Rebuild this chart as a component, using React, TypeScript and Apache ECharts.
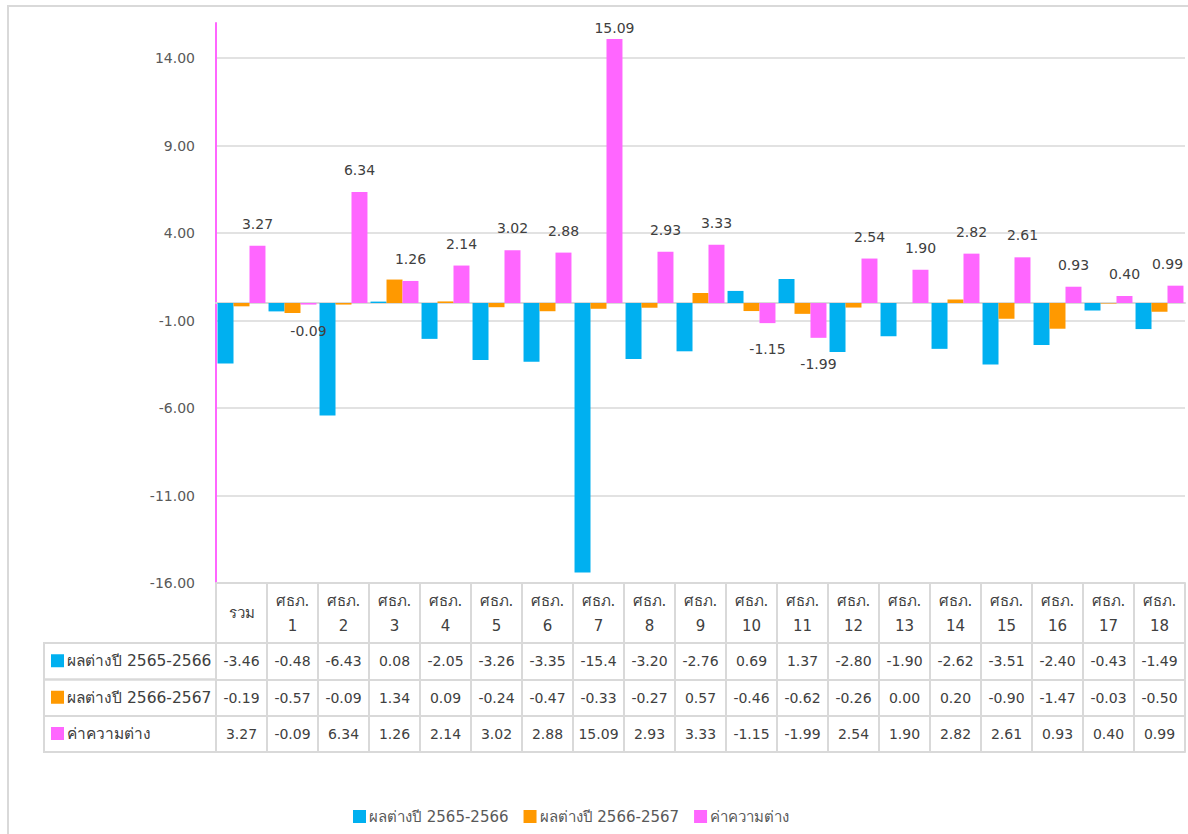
import React, { useEffect, useRef } from "react";
import * as echarts from "echarts";

const categories = [
  "รวม", "ศธภ. 1", "ศธภ. 2", "ศธภ. 3", "ศธภ. 4", "ศธภ. 5", "ศธภ. 6", "ศธภ. 7", "ศธภ. 8", "ศธภ. 9",
  "ศธภ. 10", "ศธภ. 11", "ศธภ. 12", "ศธภ. 13", "ศธภ. 14", "ศธภ. 15", "ศธภ. 16", "ศธภ. 17", "ศธภ. 18",
];
const seriesNames = ["ผลต่างปี 2565-2566", "ผลต่างปี 2566-2567", "ค่าความต่าง"];
const diff6566 = [-3.46, -0.48, -6.43, 0.08, -2.05, -3.26, -3.35, -15.4, -3.2, -2.76, 0.69, 1.37, -2.8, -1.9, -2.62, -3.51, -2.4, -0.43, -1.49];
const diff6667 = [-0.19, -0.57, -0.09, 1.34, 0.09, -0.24, -0.47, -0.33, -0.27, 0.57, -0.46, -0.62, -0.26, 0.0, 0.2, -0.9, -1.47, -0.03, -0.5];
const gap = [3.27, -0.09, 6.34, 1.26, 2.14, 3.02, 2.88, 15.09, 2.93, 3.33, -1.15, -1.99, 2.54, 1.9, 2.82, 2.61, 0.93, 0.4, 0.99];
const colors = ["#00b0f0", "#ff9900", "#ff66ff"];
const yTickMin = -16;
const yTickMax = 16;
const yTickStep = 5;

const FONT = "Tahoma, 'DejaVu Sans', sans-serif";
const GRID_LINE = "#d9d9d9";
const TEXT = "#404040";

function cellText(v: number): string {
  const s = v.toFixed(2);
  return s.length > 5 ? v.toFixed(1) : s;
}

export default function App() {
  const ref = useRef<HTMLDivElement>(null);
  useEffect(() => {
    if (!ref.current) return;
    const chart = echarts.init(ref.current, null, { renderer: "svg" });
    const rows = [diff6566, diff6667, gap];
    const gridLeft = 216;
    const gridBottomY = 583;
    const rowOffsets = [60, 96.5, 133, 169];
    const lineStyle = { color: GRID_LINE, width: 2 };
    const baseX = { type: "category", data: categories, gridIndex: 0 };

    const xAxis: any[] = [
      {
        ...baseX,
        position: "bottom",
        axisLine: { onZero: true, lineStyle },
        axisTick: { show: false },
        axisLabel: { show: false },
      },
      {
        ...baseX,
        position: "bottom",
        offset: 0,
        axisLine: { onZero: false, lineStyle },
        axisTick: { show: true, length: rowOffsets[0], interval: 0, lineStyle },
        axisLabel: {
          interval: 0,
          margin: 30,
          verticalAlign: "middle",
          lineHeight: 25,
          fontSize: 15,
          fontFamily: FONT,
          color: TEXT,
          formatter: (v: string) => v.replace(" ", "\n"),
        },
      },
    ];
    rows.forEach((row, k) => {
      const h = rowOffsets[k + 1] - rowOffsets[k];
      xAxis.push({
        ...baseX,
        position: "bottom",
        offset: rowOffsets[k],
        axisLine: { onZero: false, lineStyle },
        axisTick: { show: true, length: h, interval: 0, lineStyle },
        axisLabel: {
          interval: 0,
          margin: h / 2,
          verticalAlign: "middle",
          fontSize: 14,
          fontFamily: FONT,
          color: TEXT,
          formatter: (_v: string, idx: number) => cellText(row[idx]),
        },
      });
    });
    xAxis.push({
      ...baseX,
      position: "bottom",
      offset: rowOffsets[3],
      axisLine: { onZero: false, lineStyle },
      axisTick: { show: false },
      axisLabel: { show: false },
    });

    const graphic: any[] = [
      {
        type: "rect",
        shape: { x: 8, y: 6, width: 1200, height: 900 },
        style: { fill: "none", stroke: GRID_LINE, lineWidth: 2 },
        silent: true,
        z: -10,
      },
    ];
    seriesNames.forEach((name, k) => {
      const top = gridBottomY + rowOffsets[k];
      const h = rowOffsets[k + 1] - rowOffsets[k];
      graphic.push({
        type: "rect",
        shape: { x: 44, y: top, width: gridLeft - 44, height: h },
        style: { fill: "none", stroke: GRID_LINE, lineWidth: 2 },
        silent: true,
      });
      graphic.push({
        type: "rect",
        shape: { x: 51, y: top + h / 2 - 7, width: 13, height: 13 },
        style: { fill: colors[k] },
        silent: true,
      });
      graphic.push({
        type: "text",
        x: 67,
        y: top + h / 2,
        style: {
          text: name,
          fill: TEXT,
          fontSize: 15.5,
          fontFamily: FONT,
          verticalAlign: "middle",
          align: "left",
        },
        silent: true,
      });
    });

    const lastIdx = gap.length - 1;
    const gapData = gap.map((v, i) => {
      let label: any =
        v < 0 ? { position: "bottom", distance: 19 } : { position: "top", distance: 15 };
      if (v > yTickMax - 2) label = { position: "top", distance: 4 };
      if (i === lastIdx) label = { ...label, offset: [-8, 0] };
      return { value: v, label };
    });

    chart.setOption({
      animation: false,
      textStyle: { fontFamily: FONT },
      grid: { left: gridLeft, right: 3, top: 23, bottom: 834 - gridBottomY, containLabel: false },
      legend: {
        data: seriesNames,
        left: 348,
        top: 804,
        icon: "rect",
        itemWidth: 13,
        itemHeight: 13,
        itemGap: 15,
        textStyle: { fontSize: 15, color: "#595959", fontFamily: FONT, padding: [0, 0, 0, -2] },
      },
      xAxis,
      yAxis: {
        type: "value",
        min: yTickMin,
        max: yTickMax,
        interval: yTickStep,
        axisLine: { show: true, lineStyle: { color: "#ff66ff", width: 2 } },
        axisTick: { show: false },
        axisLabel: {
          margin: 21,
          fontSize: 14,
          color: "#595959",
          fontFamily: FONT,
          showMaxLabel: false,
          formatter: (v: number) => v.toFixed(2),
        },
        splitLine: { show: true, showMaxLine: false, lineStyle: { color: GRID_LINE, width: 1.5 } },
      },
      series: [
        {
          name: seriesNames[0],
          type: "bar",
          xAxisIndex: 0,
          data: diff6566,
          itemStyle: { color: colors[0] },
          barGap: "0%",
          barCategoryGap: "6%",
        },
        {
          name: seriesNames[1],
          type: "bar",
          xAxisIndex: 0,
          data: diff6667,
          itemStyle: { color: colors[1] },
          barGap: "0%",
          barCategoryGap: "6%",
        },
        {
          name: seriesNames[2],
          type: "bar",
          xAxisIndex: 0,
          data: gapData,
          itemStyle: { color: colors[2] },
          barGap: "0%",
          barCategoryGap: "6%",
          label: {
            show: true,
            fontSize: 14,
            color: TEXT,
            fontFamily: FONT,
            formatter: (p: any) => Number(p.value).toFixed(2),
          },
        },
      ],
      graphic,
    });
    return () => chart.dispose();
  }, []);
  return (
    <div
      ref={ref}
      style={{ position: "fixed", left: 0, top: 0, width: 1188, height: 834, background: "#fff" }}
    />
  );
}
